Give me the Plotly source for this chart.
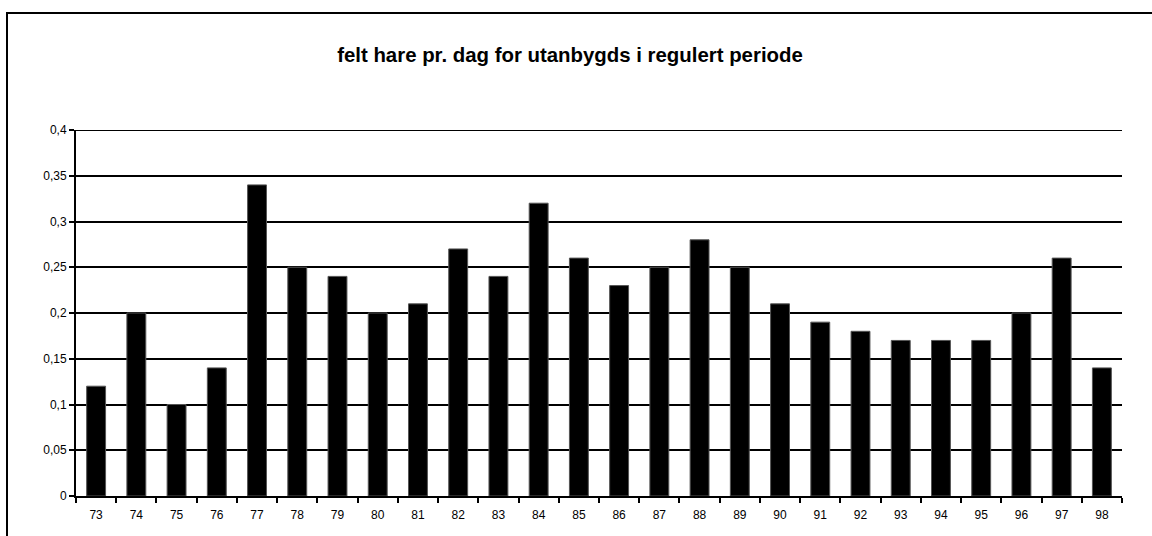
import plotly.graph_objects as go

years = ["73", "74", "75", "76", "77", "78", "79", "80", "81", "82", "83", "84", "85",
         "86", "87", "88", "89", "90", "91", "92", "93", "94", "95", "96", "97", "98"]
values = [0.12, 0.20, 0.10, 0.14, 0.34, 0.25, 0.24, 0.20, 0.21, 0.27, 0.24, 0.32, 0.26,
          0.23, 0.25, 0.28, 0.25, 0.21, 0.19, 0.18, 0.17, 0.17, 0.17, 0.20, 0.26, 0.14]
y_ticks = [0, 0.05, 0.1, 0.15, 0.2, 0.25, 0.3, 0.35, 0.4]
y_labels = ["0", "0,05", "0,1", "0,15", "0,2", "0,25", "0,3", "0,35", "0,4"]
title = "felt hare pr. dag for utanbygds i regulert periode"

W, H = 1152, 536
L, R, T, B = 76, 30, 130, 40
pw, ph = W - L - R, H - T - B

fig = go.Figure(go.Bar(
    x=years, y=values,
    marker=dict(color="black", line=dict(color="#555555", width=1)),
))

def px2paper_x(px):
    return (px - L) / pw

def px2paper_y(py):
    return (H - B - py) / ph

fig.update_layout(
    width=W, height=H,
    margin=dict(l=L, r=R, t=T, b=B),
    paper_bgcolor="white", plot_bgcolor="white",
    bargap=0.53,
    showlegend=False,
    font=dict(family="Liberation Sans, Arial, sans-serif", color="black"),
    title=dict(text="<b>" + title + "</b>", x=px2paper_x(570), xref="paper", xanchor="center",
               y=1 - 55 / H, yanchor="middle", font=dict(size=20.4, color="black")),
    xaxis=dict(
        type="category", tickson="boundaries", ticks="outside", ticklen=5, tickwidth=2,
        tickcolor="black", showline=True, linecolor="black", linewidth=2,
        showgrid=False, tickfont=dict(size=12), ticklabelstandoff=7, fixedrange=True,
    ),
    yaxis=dict(
        range=[0, 0.4], tickvals=y_ticks, ticktext=y_labels,
        ticks="outside", ticklen=5, tickwidth=2, tickcolor="black",
        showline=True, linecolor="black", linewidth=2,
        showgrid=True, gridcolor="black", gridwidth=2,
        zeroline=False, tickfont=dict(size=12), fixedrange=True,
    ),
    shapes=[
        dict(type="line", xref="paper", yref="y", x0=0, x1=1,
             y0=y_ticks[-1], y1=y_ticks[-1], line=dict(color="black", width=2)),
        dict(type="rect", xref="paper", yref="paper",
             x0=px2paper_x(7), x1=px2paper_x(1160),
             y0=px2paper_y(545), y1=px2paper_y(13),
             line=dict(color="black", width=2), fillcolor="rgba(0,0,0,0)", layer="above"),
    ],
)

fig.write_html("out.html", config={"displayModeBar": False},
               post_script="document.body.style.margin='0';document.body.style.overflow='hidden';")
